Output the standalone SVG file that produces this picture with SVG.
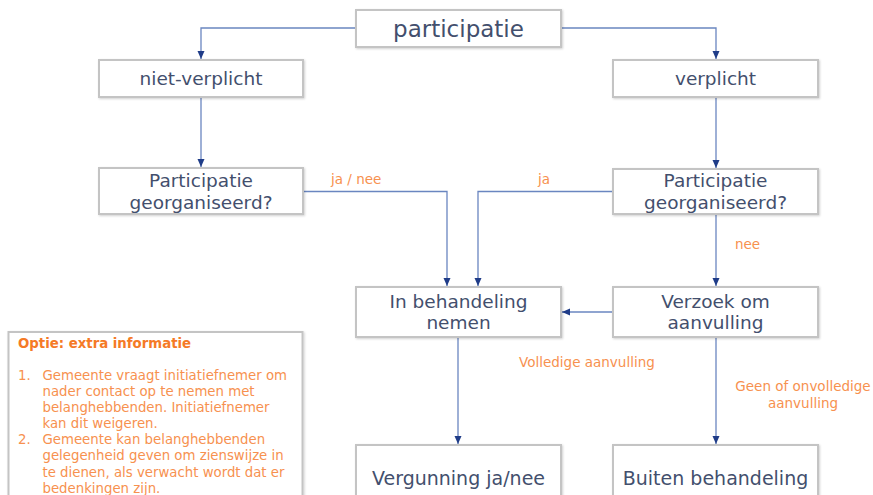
<svg xmlns="http://www.w3.org/2000/svg" width="873" height="495" viewBox="0 0 873 495">
<defs>
<marker id="arr" markerUnits="userSpaceOnUse" markerWidth="8" markerHeight="8" viewBox="0 0 8 8" refX="8" refY="4" orient="auto">
<path d="M0,0.5 L8,4 L0,7.5 Z" fill="#1f3c88"/>
</marker>
<filter id="sh" x="-5%" y="-5%" width="110%" height="120%">
<feDropShadow dx="1" dy="1" stdDeviation="0.8" flood-color="#000" flood-opacity="0.18"/>
</filter>
</defs>
<style>
.box{fill:#fff;stroke:#c4c4c4;stroke-width:2;filter:url(#sh)}
.t{font-family:"DejaVu Sans",Verdana,sans-serif;font-size:18.5px;fill:#434f6d;text-anchor:middle}
.big{font-size:23px}
.lbl{font-family:"DejaVu Sans",Verdana,sans-serif;font-size:13.5px;fill:#f7914f}
.c{fill:none;stroke:#6a86c0;stroke-width:1.3;marker-end:url(#arr)}
.info{font-family:"DejaVu Sans",Verdana,sans-serif;font-size:13.3px;fill:#f7914f}
.infob{font-family:"DejaVu Sans",Verdana,sans-serif;font-size:13.3px;font-weight:bold;fill:#f57a26}
</style>
<rect width="873" height="495" fill="#fff"/>
<g id="connectors">
<path class="c" d="M356,28 H201 V59"/>
<path class="c" d="M561,28 H716 V59"/>
<path class="c" d="M201,97 V167"/>
<path class="c" d="M716,97 V168"/>
<path class="c" d="M303,191.5 H447 V286"/>
<path class="c" d="M613,191.5 H478 V286"/>
<path class="c" d="M716,214 V286"/>
<path class="c" d="M613,312 H562"/>
<path class="c" d="M458,337 V444"/>
<path class="c" d="M716,337 V444"/>
</g>
<g id="labels">
<text class="lbl" x="331" y="184">ja / nee</text>
<text class="lbl" x="538" y="184">ja</text>
<text class="lbl" x="735" y="249">nee</text>
<text class="lbl" x="519" y="367">Volledige aanvulling</text>
<text class="lbl" x="803" y="391" text-anchor="middle">Geen of onvolledige</text>
<text class="lbl" x="803" y="408" text-anchor="middle">aanvulling</text>
</g>
<g id="participatie">
<rect class="box" x="356" y="10" width="205" height="37"/>
<text class="t big" x="458.5" y="37">participatie</text>
</g>
<g id="niet-verplicht">
<rect class="box" x="99" y="60" width="204" height="37"/>
<text class="t" x="201" y="85">niet-verplicht</text>
</g>
<g id="verplicht">
<rect class="box" x="613" y="60" width="205" height="37"/>
<text class="t" x="715.5" y="85">verplicht</text>
</g>
<g id="pg-links">
<rect class="box" x="99" y="168" width="204" height="46"/>
<text class="t" x="201" y="187">Participatie</text>
<text class="t" x="201" y="209">georganiseerd?</text>
</g>
<g id="pg-rechts">
<rect class="box" x="613" y="169" width="205" height="45"/>
<text class="t" x="715.5" y="187">Participatie</text>
<text class="t" x="715.5" y="209">georganiseerd?</text>
</g>
<g id="in-behandeling">
<rect class="box" x="356" y="287" width="205" height="50"/>
<text class="t" x="458.5" y="308">In behandeling</text>
<text class="t" x="458.5" y="329">nemen</text>
</g>
<g id="verzoek">
<rect class="box" x="613" y="287" width="205" height="50"/>
<text class="t" x="715.5" y="308">Verzoek om</text>
<text class="t" x="715.5" y="329">aanvulling</text>
</g>
<g id="vergunning">
<rect class="box" x="356" y="445" width="205" height="60"/>
<text class="t" x="458.5" y="485" style="font-size:19px">Vergunning ja/nee</text>
</g>
<g id="buiten">
<rect class="box" x="613" y="445" width="205" height="60"/>
<text class="t" x="715.5" y="485" style="font-size:19px">Buiten behandeling</text>
</g>
<g id="info">
<rect class="box" x="8.5" y="332" width="294" height="180"/>
<text class="infob" x="18" y="348">Optie: extra informatie</text>
<text class="info" x="18" y="380">1.</text>
<text class="info" x="42.5" y="380">Gemeente vraagt initiatiefnemer om</text>
<text class="info" x="42.5" y="396">nader contact op te nemen met</text>
<text class="info" x="42.5" y="412">belanghebbenden. Initiatiefnemer</text>
<text class="info" x="42.5" y="428">kan dit weigeren.</text>
<text class="info" x="18" y="444">2.</text>
<text class="info" x="42.5" y="444">Gemeente kan belanghebbenden</text>
<text class="info" x="42.5" y="460">gelegenheid geven om zienswijze in</text>
<text class="info" x="42.5" y="476.5">te dienen, als verwacht wordt dat er</text>
<text class="info" x="42.5" y="492.5">bedenkingen zijn.</text>
</g>
</svg>
